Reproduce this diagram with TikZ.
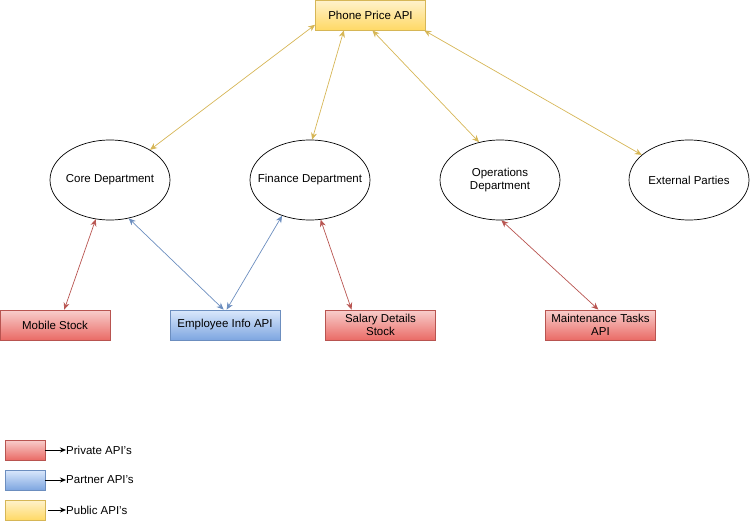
\documentclass[tikz,border=0pt]{standalone}
\usepackage{fontspec}
\setmainfont{Liberation Sans}
\usetikzlibrary{arrows.meta,shapes.geometric}

\definecolor{redfill}{HTML}{F8CECC}
\definecolor{redgrad}{HTML}{EA6B66}
\definecolor{redline}{HTML}{B85450}
\definecolor{bluefill}{HTML}{DAE8FC}
\definecolor{bluegrad}{HTML}{7EA6E0}
\definecolor{blueline}{HTML}{6C8EBF}
\definecolor{yellowfill}{HTML}{FFF2CC}
\definecolor{yellowgrad}{HTML}{FFD966}
\definecolor{yellowline}{HTML}{D6B656}

\begin{document}
\begin{tikzpicture}[x=1pt,y=-1pt,
    every node/.style={font=\fontsize{11.5}{13}\selectfont},
    apibox/.style={rectangle,minimum width=110pt,minimum height=30pt,inner sep=1pt,
      align=center,line width=0.8pt},
    privateapi/.style={apibox,draw=redline,top color=redfill,bottom color=redgrad},
    partnerapi/.style={apibox,draw=blueline,top color=bluefill,bottom color=bluegrad},
    publicapi/.style={apibox,draw=yellowline,top color=yellowfill,bottom color=yellowgrad},
    dept/.style={ellipse,draw,minimum width=120pt,minimum height=80pt,inner xsep=-14pt,
      inner ysep=0pt,align=center,line width=0.7pt},
    link/.style={line width=0.7pt,{Stealth[length=7pt,width=6pt]}-{Stealth[length=7pt,width=6pt]}},
    keybox/.style={rectangle,minimum width=40pt,minimum height=20pt,line width=0.8pt}]
    \useasboundingbox (0,0) rectangle (751,521);

    \node[publicapi] (phone) at (370.5,15) {Phone Price API};

    \node[dept] (core) at (110,180) {Core Department};
    \node[dept] (finance) at (310,180) {Finance Department};
    \node[dept] (operations) at (500,180) {Operations\\Department};
    \node[dept] (external) at (689,180) {External Parties};

    \node[privateapi] (mobile) at (55,325) {Mobile Stock};
    \node[partnerapi] (employee) at (225,325) {Employee Info API};
    \node[privateapi] (salary) at (380.5,325) {Salary Details\\Stock};
    \node[privateapi] (maintenance) at (600.5,325) {Maintenance Tasks\\API};

    % public API links
    \draw[link,yellowline] (phone.190) -- (core.37);
    \draw[link,yellowline] (phone.210) -- (finance.87);
    \draw[link,yellowline] (phone.277) -- (operations.119);
    \draw[link,yellowline] (phone.344) -- (external.152);

    % private and partner links
    \draw[link,redline] (core.250) -- (mobile.59);
    \draw[link,blueline] (core.296) -- (employee.95);
    \draw[link,blueline] (finance.232) -- (employee.84);
    \draw[link,redline] (finance.285) -- (salary.152);
    \draw[link,redline] (operations.272) -- (maintenance.98);

    % legend
    \node[keybox,draw=redline,top color=redfill,bottom color=redgrad] (keyred) at (25,450) {};
    \node[keybox,draw=blueline,top color=bluefill,bottom color=bluegrad] (keyblue) at (25,480) {};
    \node[keybox,draw=yellowline,top color=yellowfill,bottom color=yellowgrad] (keyyellow) at (25,510) {};
    \node[anchor=west,inner sep=0pt] (txtred) at (66,450) {Private API's};
    \node[anchor=west,inner sep=0pt] (txtblue) at (66,480) {Partner API's};
    \node[anchor=west,inner sep=0pt] (txtyellow) at (66,510) {Public API's};
    \draw[-{Stealth[length=6pt,width=5pt]},line width=0.8pt] (keyred) -- (txtred);
    \draw[-{Stealth[length=6pt,width=5pt]},line width=0.8pt] (keyblue) -- (txtblue);
    \draw[-{Stealth[length=6pt,width=5pt]},line width=0.8pt] ([xshift=3pt]keyyellow.east) -- (txtyellow);
\end{tikzpicture}
\end{document}
